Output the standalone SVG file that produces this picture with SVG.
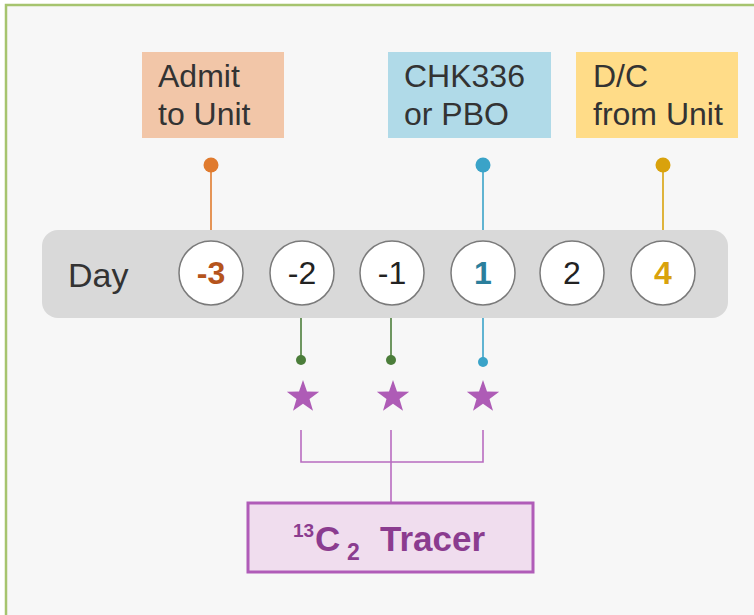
<svg xmlns="http://www.w3.org/2000/svg" width="754" height="615" viewBox="0 0 754 615">
  <defs>
    <style>
      .lbl { font-family: "Liberation Sans", Arial, sans-serif; font-size: 32px; fill: #333333; }
      .day { fill: #ffffff; stroke: #7a7a7a; stroke-width: 1.5; }
      .num { font-family: "Liberation Sans", Arial, sans-serif; font-size: 32px; fill: #222222; text-anchor: middle; }
      .bold { font-weight: bold; }
      .star { fill: #ae5cb6; }
      .brk { fill: none; stroke: #b86cc0; stroke-width: 1.6; }
    </style>
    <polygon id="star" points="0,-17 4.0,-5.5 16.2,-5.3 6.5,2.1 10.0,13.8 0,6.8 -10.0,13.8 -6.5,2.1 -16.2,-5.3 -4.0,-5.5"/>
  </defs>

  <!-- page background and frame -->
  <rect width="754" height="615" fill="#ffffff"/>
  <rect x="6" y="5" width="770" height="640" fill="#f7f7f7" stroke="#a6c46e" stroke-width="2.5"/>

  <!-- event labels -->
  <g id="admit">
    <rect x="142" y="52" width="142" height="86" fill="#f2c6a8"/>
    <text class="lbl" x="158" y="87">Admit</text>
    <text class="lbl" x="158" y="125">to Unit</text>
  </g>
  <g id="drug">
    <rect x="388" y="52" width="163" height="86" fill="#b0dae8"/>
    <text class="lbl" x="404" y="87">CHK336</text>
    <text class="lbl" x="404" y="125">or PBO</text>
  </g>
  <g id="discharge">
    <rect x="576" y="52" width="162" height="86" fill="#ffdc88"/>
    <text class="lbl" x="593" y="87">D/C</text>
    <text class="lbl" x="593" y="125">from Unit</text>
  </g>

  <!-- connectors -->
  <g id="connectors">
    <line x1="211" y1="165" x2="211" y2="241" stroke="#e07b2e" stroke-width="1.6"/>
    <circle cx="211" cy="165" r="7.5" fill="#e07b2e"/>
    <line x1="483" y1="165" x2="483" y2="241" stroke="#3aa3c8" stroke-width="1.6"/>
    <circle cx="483" cy="165" r="7.5" fill="#3aa3c8"/>
    <line x1="663" y1="165" x2="663" y2="241" stroke="#d9a20c" stroke-width="1.6"/>
    <circle cx="663" cy="165" r="7.5" fill="#d9a20c"/>

    <line x1="301" y1="305" x2="301" y2="360" stroke="#4b7d3a" stroke-width="1.6"/>
    <circle cx="301" cy="360" r="5" fill="#4b7d3a"/>
    <line x1="391" y1="305" x2="391" y2="360" stroke="#4b7d3a" stroke-width="1.6"/>
    <circle cx="391" cy="360" r="5" fill="#4b7d3a"/>
    <line x1="483" y1="305" x2="483" y2="362" stroke="#3aa3c8" stroke-width="1.6"/>
    <circle cx="483" cy="362" r="5" fill="#3aa3c8"/>

    <path class="brk" d="M301,430 V462 H483 V430 M391,430 V502"/>
  </g>

  <!-- timeline -->
  <g id="timeline">
    <rect x="42" y="230" width="686" height="88" rx="16" fill="#d9d9d9"/>
    <text class="lbl" x="68" y="287" style="font-size:34px">Day</text>
  </g>
  <g id="day-m3">
    <circle class="day" cx="211" cy="273" r="32"/>
    <text class="num bold" x="211" y="284" style="fill:#b5541c">-3</text>
  </g>
  <g id="day-m2">
    <circle class="day" cx="302" cy="273" r="32"/>
    <text class="num" x="302" y="284">-2</text>
  </g>
  <g id="day-m1">
    <circle class="day" cx="392" cy="273" r="32"/>
    <text class="num" x="392" y="284">-1</text>
  </g>
  <g id="day-1">
    <circle class="day" cx="483" cy="273" r="32"/>
    <text class="num bold" x="483" y="284" style="fill:#2b7f9c">1</text>
  </g>
  <g id="day-2">
    <circle class="day" cx="572" cy="273" r="32"/>
    <text class="num" x="572" y="284">2</text>
  </g>
  <g id="day-4">
    <circle class="day" cx="663" cy="273" r="32"/>
    <text class="num bold" x="663" y="284" style="fill:#d9a20c">4</text>
  </g>

  <!-- tracer doses -->
  <g id="stars">
    <use href="#star" class="star" x="303" y="397"/>
    <use href="#star" class="star" x="393" y="397"/>
    <use href="#star" class="star" x="483" y="397"/>
  </g>

  <g id="tracer">
    <rect x="248" y="503" width="285" height="69" fill="#f0ddee" stroke="#b05cb8" stroke-width="3"/>
    <text font-family="Liberation Sans, Arial, sans-serif" font-weight="bold" fill="#8b3c8f">
      <tspan x="293" y="537" font-size="19">13</tspan><tspan x="315" y="551" font-size="35">C</tspan><tspan x="347" y="560" font-size="23">2</tspan><tspan x="380" y="551" font-size="35">Tracer</tspan>
    </text>
  </g>
</svg>
